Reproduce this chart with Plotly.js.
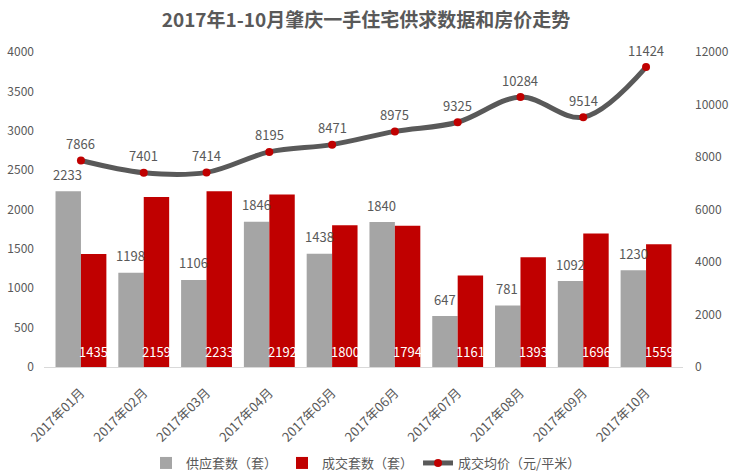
<!DOCTYPE html>
<html><head><meta charset="utf-8">
<script src="https://cdn.plot.ly/plotly-3.0.1.min.js"></script>
<style>html,body{margin:0;padding:0;background:#fff;}#chart{width:732px;height:475px;}</style>
</head><body><div id="chart"></div>
<script>
const categories = ['2017年01月','2017年02月','2017年03月','2017年04月','2017年05月','2017年06月','2017年07月','2017年08月','2017年09月','2017年10月'];
const supply = [2233, 1198, 1106, 1846, 1438, 1840, 647, 781, 1092, 1230];
const deals = [1435, 2159, 2233, 2192, 1800, 1794, 1161, 1393, 1696, 1559];
const price = [7866, 7401, 7414, 8195, 8471, 8975, 9325, 10284, 9514, 11424];

const FONT = '"Noto Sans CJK SC", "Noto Sans", sans-serif';
const TXT = '#595959';

const traces = [
  {type:'bar', name:'供应套数（套）', x:categories, y:supply, marker:{color:'#a5a5a5'}, hoverinfo:'y'},
  {type:'bar', name:'成交套数（套）', x:categories, y:deals, marker:{color:'#c00000'}, hoverinfo:'y'},
  {type:'scatter', mode:'lines+markers', name:'成交均价（元/平米）', x:categories, y:price, yaxis:'y2',
   line:{color:'#595959', width:5, shape:'spline', smoothing:1}, marker:{color:'#c00000', size:8}}
];

const annotations = [];
categories.forEach((c,i)=>{
  annotations.push({x:c, y:supply[i], xref:'x', yref:'y', text:String(supply[i]), showarrow:false,
    xshift:-13, yshift:17, font:{size:13, color:TXT, family:FONT}});
  annotations.push({x:c, y:0, xref:'x', yref:'y', text:String(deals[i]), showarrow:false,
    xshift:13, yanchor:'bottom', yshift:4, font:{size:13, color:'#ffffff', family:FONT}});
  annotations.push({x:c, y:price[i], xref:'x', yref:'y2', text:String(price[i]), showarrow:false,
    yshift:17, font:{size:13, color:TXT, family:FONT}});
});

const layout = {
  width:732, height:475,
  margin:{l:44, r:49, t:52, b:108, autoexpand:false},
  paper_bgcolor:'#fff', plot_bgcolor:'#fff',
  font:{family:FONT, color:TXT, size:12},
  title:{text:'<b>2017年1-10月肇庆一手住宅供求数据和房价走势</b>', x:0.5, xanchor:'center',
    y:1-20/475, yanchor:'middle', yref:'container', font:{size:19, color:TXT, family:FONT}},
  barmode:'group', bargap:0.19, bargroupgap:0,
  showlegend:true,
  legend:{orientation:'h', x:0.5, xanchor:'center', xref:'container', y:12/475, yanchor:'middle', yref:'container',
    font:{size:13, color:TXT, family:FONT}, traceorder:'normal'},
  xaxis:{type:'category', tickangle:-45, showgrid:false, zeroline:false, showline:true, automargin:false,
    linecolor:'#d9d9d9', linewidth:1, ticks:'', ticklabelstandoff:12,
    tickfont:{size:13, color:TXT, family:FONT}},
  yaxis:{range:[0,4000], dtick:500, showgrid:false, zeroline:false, showline:false, ticks:'', automargin:false,
    ticklabelstandoff:9, tickfont:{size:12, color:TXT, family:FONT}},
  yaxis2:{range:[0,12000], dtick:2000, tickformat:'d', overlaying:'y', side:'right', showgrid:false, zeroline:false,
    showline:false, ticks:'', automargin:false, ticklabelstandoff:11, tickfont:{size:12, color:TXT, family:FONT}},
  annotations:annotations
};

Plotly.newPlot('chart', traces, layout, {displayModeBar:false, staticPlot:true});
</script>
</body></html>
